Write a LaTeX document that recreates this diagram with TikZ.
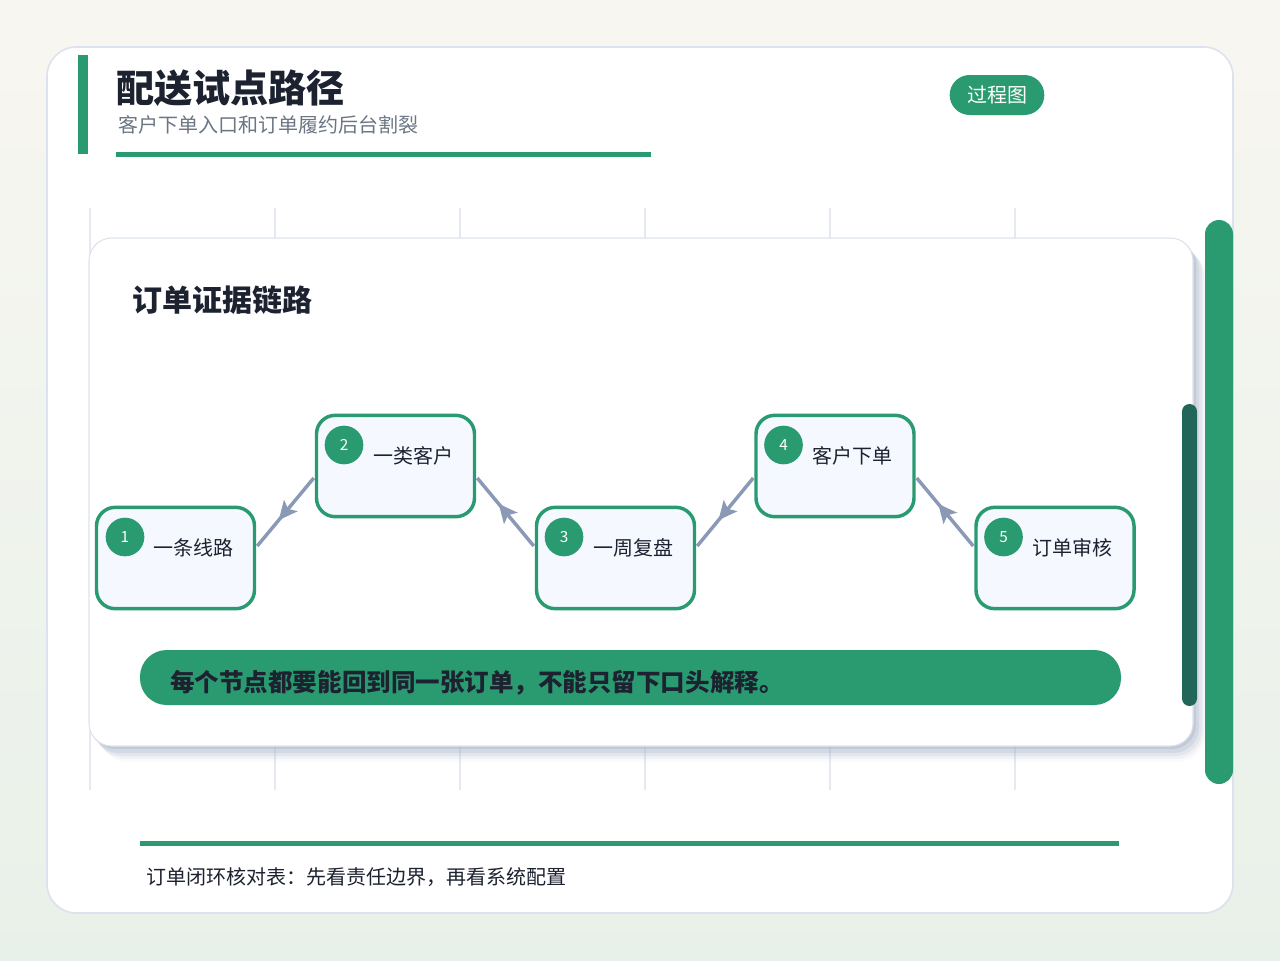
\documentclass[tikz,border=0pt]{standalone}
\usepackage{fontspec}
\setmainfont{Noto Sans CJK SC}
\usetikzlibrary{arrows.meta,decorations.markings,calc}

\definecolor{bgtop}{HTML}{F8F6F1}
\definecolor{bgbot}{HTML}{E8F1E9}
\definecolor{accent}{HTML}{2A9B70}
\definecolor{darkacc}{HTML}{22665A}
\definecolor{ink}{HTML}{1C2230}
\definecolor{subgray}{HTML}{6B7684}
\definecolor{cardline}{HTML}{DCE2EE}
\definecolor{gridc}{HTML}{E6EAF0}
\definecolor{nodefill}{HTML}{F5F9FF}
\definecolor{arrowc}{HTML}{8A9AB6}
\definecolor{shadowc}{HTML}{A3AEC4}

\tikzset{
  stepbox/.style={rectangle, draw=accent, line width=2.6pt, fill=nodefill,
    rounded corners=14pt, minimum width=118.5pt, minimum height=76pt, inner sep=0pt},
  numdot/.style={circle, fill=accent, minimum size=29pt, inner sep=0pt,
    text=white, font=\fontsize{11.5}{11.5}\selectfont},
  steplabel/.style={anchor=west, inner sep=0pt, text=ink, font=\fontsize{15}{15}\selectfont},
  link/.style={draw=arrowc, line width=2.6pt, postaction={decorate},
    decoration={markings, mark=at position 0.62 with {\arrow{Stealth[length=14pt,width=13pt,inset=3pt]}}}},
  gridline/.style={draw=gridc, line width=0.8pt},
}

\begin{document}
\begin{tikzpicture}[x=0.75pt,y=-0.75pt]
\useasboundingbox (0,0) rectangle (1280,960);
% background
\shade[top color=bgtop, bottom color=bgbot] (0,0) rectangle (1280,960);
% outer card
\draw[draw=cardline, line width=1.2pt, fill=white, rounded corners=22pt] (47,47) rectangle (1233,913);

% header
\fill[accent] (78,55) rectangle (88,154);
\node[anchor=west, inner sep=0pt, text=ink, font=\fontsize{28.6}{28.6}\bfseries\selectfont] (title) at (116,88) {配送试点路径};
\node[anchor=west, inner sep=0pt, text=subgray, font=\fontsize{15}{15}\selectfont] (subtitle) at (118,125) {客户下单入口和订单履约后台割裂};
\fill[accent] (116,152) rectangle (651,156.5);
\node[fill=accent, rounded corners=15pt, minimum width=71pt, minimum height=30pt, inner sep=0pt,
  text=white, font=\fontsize{15}{15}\selectfont] (badge) at (997,95) {过程图};

% grid lines
\foreach \gx in {90,275,460,645,830,1015}{
  \draw[gridline] (\gx,208) -- (\gx,790);
}

% right bars
\fill[accent, rounded corners=10.5pt] (1205,220) rectangle (1233,784);

% panel shadow
\fill[shadowc, opacity=0.06, rounded corners=22pt] (99,250) rectangle (1206,762);
\fill[shadowc, opacity=0.10, rounded corners=21pt] (97,248) rectangle (1204,759);
\fill[shadowc, opacity=0.16, rounded corners=20pt] (95,246) rectangle (1202,756);
\fill[shadowc, opacity=0.24, rounded corners=19pt] (93,244) rectangle (1199,753);
\fill[shadowc, opacity=0.34, rounded corners=18pt] (91,241) rectangle (1196,749);
% panel
\draw[draw=cardline, line width=0.8pt, fill=white, rounded corners=17pt] (89,238) rectangle (1193,746);
\fill[darkacc, rounded corners=5.6pt] (1182,404) rectangle (1197,706);

\node[anchor=west, inner sep=0pt, text=ink, font=\fontsize{22.5}{22.5}\bfseries\selectfont] (ptitle) at (132,300) {订单证据链路};

% steps
\node[stepbox] (n1) at (175.5,558) {};
\node[stepbox] (n2) at (395.5,466) {};
\node[stepbox] (n3) at (615.5,558) {};
\node[stepbox] (n4) at (835,466) {};
\node[stepbox] (n5) at (1055,558) {};

\node[numdot] (d1) at ($(n1.center)+(-50.5,-21)$) {1};
\node[numdot] (d2) at ($(n2.center)+(-51.5,-21)$) {2};
\node[numdot] (d3) at ($(n3.center)+(-51.5,-21)$) {3};
\node[numdot] (d4) at ($(n4.center)+(-51.5,-21)$) {4};
\node[numdot] (d5) at ($(n5.center)+(-51.5,-21)$) {5};

\node[steplabel] (l1) at ($(n1.center)+(-22.5,-10)$) {一条线路};
\node[steplabel] (l2) at ($(n2.center)+(-22.5,-10)$) {一类客户};
\node[steplabel] (l3) at ($(n3.center)+(-22.5,-10)$) {一周复盘};
\node[steplabel] (l4) at ($(n4.center)+(-22.5,-10)$) {客户下单};
\node[steplabel] (l5) at ($(n5.center)+(-22.5,-10)$) {订单审核};

% connectors
\draw[link] ($(n2.west)+(-1,12)$) -- ($(n1.east)+(1,-12)$);
\draw[link] ($(n3.west)+(-1,-12)$) -- ($(n2.east)+(1,12)$);
\draw[link] ($(n4.west)+(-1,12)$) -- ($(n3.east)+(1,-12)$);
\draw[link] ($(n5.west)+(-1,-12)$) -- ($(n4.east)+(1,12)$);

% note bar
\fill[accent, rounded corners=20pt] (140,650) rectangle (1121,705);
\node[anchor=west, inner sep=0pt, text=ink, font=\fontsize{18.4}{18.4}\bfseries\selectfont] (note) at (170,683) {每个节点都要能回到同一张订单，不能只留下口头解释。};

% footer
\fill[accent] (140,840.5) rectangle (1119,845.5);
\node[anchor=west, inner sep=0pt, text=ink, font=\fontsize{15}{15}\selectfont] (footer) at (146,877) {订单闭环核对表：先看责任边界，再看系统配置};
\end{tikzpicture}
\end{document}
